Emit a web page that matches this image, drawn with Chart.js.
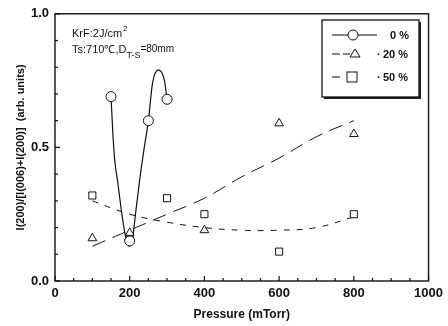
<!DOCTYPE html>
<html>
<head>
<meta charset="utf-8">
<script src="https://cdn.jsdelivr.net/npm/chart.js@4.4.0/dist/chart.umd.min.js"></script>
<style>
  body { margin: 0; background: #fff; }
  #wrap { width: 448px; height: 326px; position: relative; }
</style>
</head>
<body>
<div id="wrap"><canvas id="myChart"></canvas></div>
<script>
// measured points (pressure in mTorr)
const p0 = [150, 200, 250, 300] ;
const v0 = [0.69, 0.15, 0.60, 0.68] ;
const p20 = [100, 200, 400, 600, 800] ;
const v20 = [0.16, 0.18, 0.19, 0.59, 0.55] ;
const p50 = [100, 200, 300, 400, 600, 800] ;
const v50 = [0.32, 0.16, 0.31, 0.25, 0.11, 0.25] ;

// guide curves
const c0x = [150, 155, 160, 168, 180, 190, 200, 208, 213, 225, 239, 250, 261, 277, 293, 300] ;
const c0y = [0.69, 0.55, 0.45, 0.37, 0.24, 0.16, 0.13, 0.16, 0.22, 0.36, 0.50, 0.60, 0.74, 0.79, 0.75, 0.68] ;
const c20x = [100, 200, 300, 400, 500, 600, 700, 800] ;
const c20y = [0.13, 0.19, 0.25, 0.31, 0.39, 0.46, 0.54, 0.60] ;
const c50x = [100, 200, 300, 400, 500, 600, 700, 800] ;
const c50y = [0.30, 0.25, 0.22, 0.20, 0.19, 0.19, 0.20, 0.24] ;

const xTicks = [0, 200, 400, 600, 800, 1000] ;
const yTicks = [0.0, 0.5, 1.0] ;

const legendNames = ['0 %', '20 %', '50 %'] ;

function pts(xs, ys) {
    return xs.map((x, i) => ({x: x, y: ys[i]})) ;
}

const FONT = 'Liberation Sans, Arial, sans-serif' ;

// frame, inward ticks, annotation text and the boxed legend
const decorPlugin = {
    id: 'decor',
    afterDraw(chart) {
        const ctx = chart.ctx ;
        const a = chart.chartArea ;
        const xs = chart.scales.x, ys = chart.scales.y ;
        ctx.save() ;
        ctx.strokeStyle = '#111' ;
        ctx.lineWidth = 1.4 ;
        ctx.strokeRect(a.left, a.top, a.right - a.left, a.bottom - a.top) ;

        ctx.lineWidth = 1.2 ;
        for (let v = 0; v <= 1000; v += 50) {
            const px = xs.getPixelForValue(v) ;
            const len = v % 200 === 0 ? 5 : 3 ;
            ctx.beginPath() ; ctx.moveTo(px, a.bottom) ; ctx.lineTo(px, a.bottom - len) ; ctx.stroke() ;
        }
        for (let i = 0; i <= 10; i++) {
            const v = i / 10 ;
            const py = ys.getPixelForValue(v) ;
            const len = i % 5 === 0 ? 5 : 3 ;
            ctx.beginPath() ; ctx.moveTo(a.left, py) ; ctx.lineTo(a.left + len, py) ; ctx.stroke() ;
        }

        // annotation
        ctx.fillStyle = '#111' ;
        ctx.textBaseline = 'alphabetic' ;
        ctx.textAlign = 'left' ;
        ctx.font = '11px ' + FONT ;
        let x = 72 ;
        ctx.fillText('KrF:2J/cm', x, 37) ;
        x += ctx.measureText('KrF:2J/cm').width ;
        ctx.font = '8px ' + FONT ;
        ctx.fillText('2', x + 1, 31) ;
        ctx.font = '11px ' + FONT ;
        x = 72 ;
        ctx.fillText('Ts:710\u2103,D', x, 53) ;
        x += ctx.measureText('Ts:710\u2103,D').width ;
        ctx.font = '9px ' + FONT ;
        ctx.fillText('T-S', x, 58) ;
        x += ctx.measureText('T-S').width ;
        ctx.font = '10px ' + FONT ;
        ctx.fillText('=80mm', x, 52) ;

        // legend box with shadow
        const bx = 322, by = 20, bw = 97, bh = 77 ;
        ctx.fillStyle = '#222' ;
        ctx.fillRect(bx + 2, by + 2, bw, bh) ;
        ctx.fillStyle = '#fff' ;
        ctx.fillRect(bx, by, bw, bh) ;
        ctx.strokeStyle = '#111' ;
        ctx.lineWidth = 1.3 ;
        ctx.strokeRect(bx, by, bw, bh) ;

        const rows = [35, 54, 77] ;
        ctx.lineWidth = 1 ;
        // row 0: solid + circle
        ctx.setLineDash([]) ;
        ctx.beginPath() ; ctx.moveTo(332, rows[0]) ; ctx.lineTo(377, rows[0]) ; ctx.stroke() ;
        ctx.beginPath() ; ctx.arc(353, rows[0], 5, 0, Math.PI * 2) ; ctx.fillStyle = '#fff' ; ctx.fill() ; ctx.stroke() ;
        // row 1: dashed + triangle
        ctx.setLineDash([8, 3]) ;
        ctx.beginPath() ; ctx.moveTo(332, rows[1]) ; ctx.lineTo(350, rows[1]) ; ctx.stroke() ;
        ctx.setLineDash([]) ;
        ctx.beginPath() ; ctx.moveTo(355, rows[1] - 5) ; ctx.lineTo(360, rows[1] + 3) ; ctx.lineTo(350, rows[1] + 3) ; ctx.closePath() ; ctx.stroke() ;
        // row 2: short dash + square
        ctx.beginPath() ; ctx.moveTo(332, rows[2]) ; ctx.lineTo(340, rows[2]) ; ctx.stroke() ;
        ctx.strokeRect(347, rows[2] - 5, 10, 10) ;

        ctx.fillStyle = '#111' ;
        ctx.font = 'bold 11px ' + FONT ;
        ctx.textBaseline = 'middle' ;
        ctx.fillText(legendNames[0], 390, rows[0] + 1) ;
        ctx.fillText('\u00b7', 377, rows[1] + 1) ;
        ctx.fillText(legendNames[1], 383, rows[1] + 1) ;
        ctx.fillText('\u00b7', 377, rows[2] + 1) ;
        ctx.fillText(legendNames[2], 383, rows[2] + 1) ;
        ctx.restore() ;
    }
} ;

const markerStyle = {
    showLine: false,
    pointBackgroundColor: '#fff',
    pointBorderColor: '#111',
    pointBorderWidth: 1,
    borderColor: '#111'
} ;

const ctx = document.getElementById('myChart') ;
const myChart = new Chart(ctx, {
    type: 'scatter',
    data: {
        datasets: [
            { label: 'c0', data: pts(c0x, c0y), showLine: true, borderColor: '#111', borderWidth: 1.2, pointRadius: 0, tension: 0.4, cubicInterpolationMode: 'monotone', order: 5 },
            { label: 'c20', data: pts(c20x, c20y), showLine: true, borderColor: '#111', borderWidth: 1, borderDash: [14, 8], pointRadius: 0, tension: 0.4, order: 5 },
            { label: 'c50', data: pts(c50x, c50y), showLine: true, borderColor: '#111', borderWidth: 1, borderDash: [6, 7], pointRadius: 0, tension: 0.4, order: 5 },
            Object.assign({ label: legendNames[0], data: pts(p0, v0), pointStyle: 'circle', pointRadius: 5, order: 1 }, markerStyle),
            Object.assign({ label: legendNames[1], data: pts(p20, v20), pointStyle: 'triangle', pointRadius: 5, order: 1 }, markerStyle),
            Object.assign({ label: legendNames[2], data: pts(p50, v50), pointStyle: 'rect', pointRadius: 5, order: 1 }, markerStyle)
        ]
    },
    options: {
        animation: false,
        responsive: true,
        maintainAspectRatio: false,
        layout: { padding: { top: 13, right: 16, left: 0, bottom: 0 } },
        plugins: { legend: { display: false }, tooltip: { enabled: false } },
        scales: {
            x: {
                type: 'linear', min: 0, max: 1000,
                afterBuildTicks: (s) => { s.ticks = xTicks.map(v => ({value: v})) ; },
                grid: { display: false, drawTicks: false },
                border: { display: false },
                ticks: { color: '#111', font: { family: FONT, size: 13, weight: 'bold' }, padding: 5, maxRotation: 0, callback: (v) => String(v) },
                title: { display: true, text: 'Pressure (mTorr)', color: '#111', font: { family: FONT, size: 12, weight: 'bold' }, padding: { top: 1 } },
                afterFit: (s) => { s.height = 45 ; }
            },
            y: {
                type: 'linear', min: 0, max: 1,
                afterBuildTicks: (s) => { s.ticks = yTicks.map(v => ({value: v})) ; },
                grid: { display: false, drawTicks: false },
                border: { display: false },
                ticks: { color: '#111', font: { family: FONT, size: 13, weight: 'bold' }, padding: 6, callback: (v) => v.toFixed(1) },
                title: { display: true, text: 'I(200)/[I(006)+I(200)]  (arb. units)', color: '#111', font: { family: FONT, size: 11, weight: 'bold' }, padding: { top: 14, bottom: 0 } },
                afterFit: (s) => { s.width = 55 ; }
            }
        }
    },
    plugins: [decorPlugin]
}) ;
</script>
</body>
</html>
